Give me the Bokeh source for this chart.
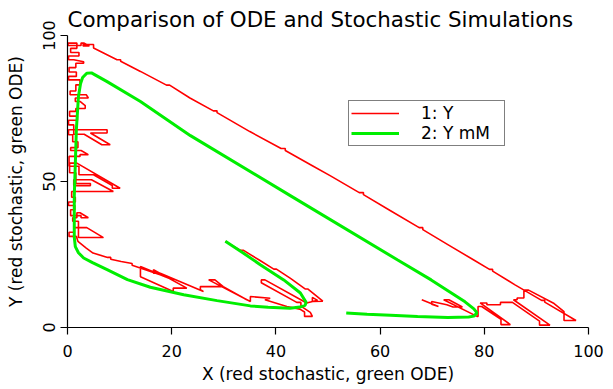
from bokeh.plotting import figure
from bokeh.models import Range1d, FixedTicker, Legend, LegendItem
from bokeh.embed import file_html
from bokeh.resources import INLINE

# ---------------- data ----------------
x_ticks = [0, 20, 40, 60, 80, 100]
y_ticks = [0, 50, 100]

# ODE trajectory (green)
ode_x = [30.3, 33.8, 37.0, 41.5, 44.7, 45.8, 45.6, 44.6, 42.7, 38.5, 35.1, 28.7, 22.3, 15.9,
         11.5, 7.6, 4.8, 3.1, 2.1, 1.5, 1.3, 1.3, 1.5, 1.7, 2.1, 2.5, 2.9, 3.7, 4.6, 7.6,
         14.0, 23.6, 43.0, 63.3, 69.8, 76.3, 78.0, 78.6, 78.0, 77.0, 73.0, 67.2, 62.0, 57.5, 53.5]
ode_y = [29.5, 25.4, 21.5, 16.3, 11.8, 8.6, 7.6, 7.0, 6.6, 6.9, 7.4, 9.2, 11.2, 13.8,
         16.4, 19.8, 22.2, 23.8, 25.6, 27.7, 31.0, 44.9, 56.0, 67.7, 79.1, 83.5, 85.6, 87.1, 87.2, 84.2,
         77.4, 65.7, 44.9, 23.2, 16.3, 8.8, 6.4, 5.0, 3.9, 3.6, 3.4, 3.8, 4.2, 4.5, 5.0]

# stochastic trajectory (red), in pieces along the path
sto_start = [(30.3, 29.5), (33.2, 26.4), (33.8, 26.4), (36.8, 23.1), (39.6, 20.0), (40.1, 20.0),
             (42.8, 16.8), (45.6, 13.2), (46.1, 13.2), (49.0, 9.0)]
sto_middle = [(47.0, 8.9), (47.0, 10.3), (48.0, 9.3), (45.9, 8.4), (37.9, 16.3), (37.2, 16.3),
              (37.2, 15.3), (44.0, 8.6), (44.8, 8.6), (44.8, 7.3), (46.6, 5.2), (47.0, 3.8),
              (45.5, 3.8), (45.5, 5.3), (44.6, 6.3)]
sto_bottom = [(42.1, 7.2), (37.9, 9.5), (38.9, 10.0), (35.1, 10.6), (35.1, 8.9), (27.1, 16.3),
              (28.3, 16.3), (29.9, 14.0), (34.4, 9.5), (29.9, 14.0), (25.5, 14.0), (25.5, 13.0),
              (26.1, 12.3), (17.8, 18.6), (16.5, 18.6), (16.5, 19.8), (22.9, 13.5), (20.3, 13.5),
              (20.3, 12.3), (14.0, 17.4), (14.0, 20.9), (20.3, 16.3), (17.9, 18.0), (14.1, 20.3),
              (12.4, 21.3), (12.4, 21.9), (10.3, 22.6), (8.3, 23.4), (8.3, 24.0), (7.7, 24.0),
              (4.9, 25.5), (3.6, 27.2), (2.0, 29.5), (1.7, 31.2)]
sto_left = [(0.3, 31.2), (0.3, 32.6), (1.3, 32.6), (1.3, 34.2), (3.7, 34.2), (6.9, 30.8), (2.1, 30.8),
            (2.1, 36.4), (1.0, 36.4), (1.0, 37.6), (1.8, 37.6), (1.8, 39.3), (2.4, 39.3), (4.0, 37.6),
            (2.6, 37.6), (2.6, 38.3), (0.6, 38.3), (0.6, 40.3), (1.4, 40.3), (1.4, 41.8), (0.2, 41.8),
            (0.2, 43.0), (1.5, 43.0), (1.5, 44.6), (0.8, 44.6), (0.8, 46.6), (8.8, 46.6), (4.6, 50.6),
            (1.2, 50.6), (1.2, 48.6), (4.4, 48.6), (4.4, 49.3), (1.6, 49.3), (1.6, 53.0), (0.4, 53.0),
            (0.4, 56.3), (1.8, 56.3), (10.1, 47.7), (8.6, 47.7), (8.6, 48.6), (5.0, 52.3), (2.2, 52.3),
            (2.2, 55.2), (0.3, 55.2), (0.3, 58.6), (2.4, 58.6), (2.4, 59.2), (4.0, 59.2), (2.6, 60.6),
            (0.6, 60.6), (0.6, 61.6), (2.0, 61.6), (2.0, 63.6), (1.0, 63.6), (1.0, 66.0), (0.2, 66.0),
            (0.2, 67.7), (7.6, 67.7), (7.6, 66.6), (4.4, 66.6), (8.2, 62.6), (6.6, 62.6), (3.2, 66.2),
            (1.2, 66.2), (1.2, 69.4), (0.2, 69.4), (0.2, 71.0), (1.9, 71.0), (1.9, 72.4), (0.4, 72.4),
            (0.4, 74.0), (1.6, 74.0), (1.6, 75.0), (3.4, 75.0), (3.4, 76.0), (2.4, 77.4), (1.5, 77.4),
            (1.5, 78.6), (4.0, 78.6), (3.6, 79.7), (0.5, 79.7), (0.5, 81.0), (1.6, 81.0), (1.6, 83.1),
            (2.4, 83.1), (2.4, 84.8), (0.2, 84.8), (0.2, 86.0), (1.7, 86.0), (1.7, 87.5), (0.3, 87.5),
            (0.3, 89.0), (1.6, 89.0), (1.6, 90.5), (3.1, 90.5), (3.1, 91.0), (1.2, 91.7), (0.2, 91.7),
            (0.2, 93.0), (2.2, 93.0), (2.2, 94.2), (0.6, 94.2), (0.6, 95.6), (1.8, 95.6), (1.8, 97.4),
            (0.1, 97.4), (0.1, 96.6), (2.6, 96.6), (2.6, 97.4), (3.2, 97.4), (4.2, 96.4), (3.0, 96.4),
            (3.0, 96.9), (5.0, 96.9), (5.0, 95.7)]
sto_top = [(9.5, 91.7), (10.2, 91.7), (10.2, 91.2), (14.0, 87.7), (19.0, 83.0), (19.6, 83.0),
           (23.5, 78.6), (28.0, 74.2), (28.7, 74.2), (28.7, 73.6), (35.0, 67.1), (41.0, 61.3),
           (41.8, 61.3), (41.8, 60.6), (47.0, 55.4), (50.4, 52.0), (56.0, 46.2), (56.8, 46.2),
           (56.8, 45.5), (62.0, 40.0), (67.5, 34.2), (68.2, 34.2), (68.2, 33.5), (73.0, 28.4),
           (77.9, 23.2), (81.0, 19.9), (81.6, 19.9), (81.6, 19.3), (85.9, 14.6), (91.0, 9.3),
           (91.6, 9.3), (91.6, 8.7), (97.6, 2.4)]
sto_right = [(95.3, 2.4), (95.3, 5.4), (93.4, 8.2), (88.5, 12.8), (87.6, 12.8), (87.6, 10.1),
             (86.3, 10.1), (86.3, 9.5), (85.6, 9.5), (92.6, 0.8), (90.6, 0.8), (90.6, 2.2),
             (85.4, 8.6), (83.1, 8.6), (83.1, 7.8), (80.5, 7.8), (80.5, 8.4), (79.2, 8.4),
             (85.0, 1.0), (83.2, 1.0), (83.2, 2.8), (79.5, 7.2), (78.8, 7.2), (78.8, 3.8),
             (78.6, 3.8), (72.2, 9.5), (73.2, 9.5), (75.8, 7.0), (74.0, 7.0), (72.8, 7.8),
             (69.9, 8.9), (69.9, 8.0), (71.2, 7.2), (68.0, 9.5)]

sto_path = sto_start + sto_middle + sto_bottom + sto_left + sto_top + sto_right
sto_x = [pt[0] for pt in sto_path]
sto_y = [pt[1] for pt in sto_path]

# ---------------- figure ----------------
FONT = "DejaVu Sans"
p = figure(frame_width=521, frame_height=292, output_backend="svg", toolbar_location=None,
           x_range=Range1d(0, 100), y_range=Range1d(0, 100),
           min_border_left=67, min_border_right=25, min_border_bottom=61, min_border_top=0)

p.title.text = "Comparison of ODE and Stochastic Simulations"
p.title.text_font = FONT
p.title.text_font_size = "21.4px"
p.title.text_font_style = "normal"
p.title.text_color = "black"
p.title.standoff = 8

p.outline_line_color = None
p.xgrid.visible = False
p.ygrid.visible = False

for ax in (p.xaxis[0], p.yaxis[0]):
    ax.major_label_text_font = FONT
    ax.major_label_text_font_size = "16px"
    ax.major_label_text_color = "black"
    ax.axis_label_text_font = FONT
    ax.axis_label_text_font_size = "17px"
    ax.axis_label_text_font_style = "normal"
    ax.axis_label_text_color = "black"
    ax.axis_line_color = "black"
    ax.axis_line_width = 1.2
    ax.major_tick_line_color = "black"
    ax.major_tick_line_width = 1.2
    ax.major_tick_out = 7
    ax.major_tick_in = 0
    ax.minor_tick_line_color = None

p.xaxis.ticker = FixedTicker(ticks=x_ticks)
p.yaxis.ticker = FixedTicker(ticks=y_ticks)
p.xaxis.axis_label = "X (red stochastic, green ODE)"
p.yaxis.axis_label = "Y (red stochastic, green ODE)"
p.yaxis.major_label_orientation = "vertical"
p.xaxis.major_label_standoff = 10
p.xaxis.axis_label_standoff = 4
p.yaxis.major_label_standoff = 6
p.yaxis.axis_label_standoff = 14

r_red = p.line(sto_x, sto_y, line_color="#ff0000", line_width=1.6)
r_green = p.line(ode_x, ode_y, line_color="#00ee00", line_width=3)

legend = Legend(items=[LegendItem(label="1: Y", renderers=[r_red]),
                       LegendItem(label="2: Y mM", renderers=[r_green])],
                location=(281, 181))
legend.border_line_color = "black"
legend.border_line_width = 1
legend.background_fill_color = "white"
legend.background_fill_alpha = 1
legend.label_text_font = FONT
legend.label_text_font_size = "17px"
legend.label_text_color = "black"
legend.glyph_width = 48
legend.glyph_height = 14
legend.label_height = 14
legend.label_standoff = 22
legend.label_width = 81
legend.padding = 2
legend.spacing = -5
legend.margin = 0
p.add_layout(legend)

open("out.html", "w").write(file_html(p, INLINE))
